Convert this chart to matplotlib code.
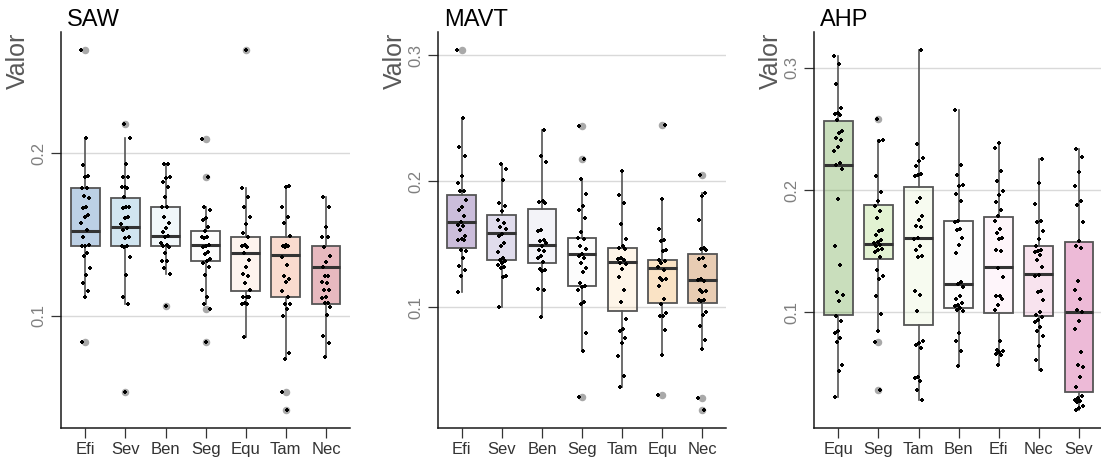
import matplotlib
matplotlib.use("Agg")
import matplotlib.pyplot as plt
from matplotlib.transforms import offset_copy
from matplotlib.colors import to_rgba
import numpy as np

plt.rcParams['font.family'] = ['Liberation Sans', 'DejaVu Sans']

# ---------------- SAW ----------------
saw_labels = ["Efi", "Sev", "Ben", "Seg", "Equ", "Tam", "Nec"]
saw_palette = ["#2166AC", "#67A9CF", "#D1E5F0", "#F7F7F7", "#FDDBC7", "#EF8A62", "#B2182B"]
saw_efi = [0.2634, 0.2091, 0.1928, 0.1862, 0.1856, 0.1788, 0.1788, 0.1739, 0.1722, 0.1671, 0.1665, 0.1619, 0.1605, 0.1568,
           0.1527, 0.1481, 0.1434, 0.1428, 0.1428, 0.1387, 0.1366, 0.1296, 0.1249, 0.1198, 0.1152, 0.1115, 0.0837]
saw_sev = [0.2181, 0.2091, 0.1932, 0.1856, 0.1856, 0.1794, 0.1790, 0.1788, 0.1733, 0.1671, 0.1667, 0.1665, 0.1609, 0.1599,
           0.1564, 0.1537, 0.1527, 0.1481, 0.1479, 0.1428, 0.1428, 0.1424, 0.1362, 0.1249, 0.1115, 0.1074, 0.0529]
saw_ben = [0.1932, 0.1932, 0.1856, 0.1850, 0.1825, 0.1794, 0.1733, 0.1671, 0.1667, 0.1605, 0.1572, 0.1537, 0.1516, 0.1490,
           0.1486, 0.1444, 0.1434, 0.1428, 0.1424, 0.1383, 0.1337, 0.1337, 0.1290, 0.1255, 0.1058]
saw_seg = [0.2088, 0.1856, 0.1671, 0.1650, 0.1599, 0.1588, 0.1543, 0.1521, 0.1486, 0.1481, 0.1479, 0.1434, 0.1428, 0.1424,
           0.1393, 0.1379, 0.1346, 0.1335, 0.1321, 0.1300, 0.1249, 0.1156, 0.1115, 0.1074, 0.1039, 0.0837]
saw_equ = [0.2634, 0.1788, 0.1733, 0.1671, 0.1609, 0.1564, 0.1510, 0.1481, 0.1434, 0.1428, 0.1424, 0.1387, 0.1342, 0.1300,
           0.1255, 0.1243, 0.1198, 0.1156, 0.1115, 0.1115, 0.1115, 0.1078, 0.1074, 0.1074, 0.0868]
saw_tam = [0.1798, 0.1794, 0.1671, 0.1609, 0.1568, 0.1490, 0.1434, 0.1428, 0.1428, 0.1420, 0.1362, 0.1311, 0.1243, 0.1228,
           0.1208, 0.1152, 0.1115, 0.1070, 0.1070, 0.1039, 0.0996, 0.0770, 0.0735, 0.0529, 0.0420]
saw_nec = [0.1728, 0.1671, 0.1547, 0.1486, 0.1486, 0.1424, 0.1366, 0.1327, 0.1300, 0.1243, 0.1243, 0.1208, 0.1202, 0.1160,
           0.1156, 0.1115, 0.1111, 0.1078, 0.1078, 0.1053, 0.1002, 0.0872, 0.0831, 0.0745]
saw_q1 = [0.1428, 0.1428, 0.1428, 0.1335, 0.1152, 0.1115, 0.1074]
saw_med = [0.1523, 0.1547, 0.1490, 0.1434, 0.1387, 0.1372, 0.1298]
saw_q3 = [0.1788, 0.1726, 0.1671, 0.1521, 0.1481, 0.1481, 0.1428]
saw_lo = [0.1115, 0.1074, 0.1255, 0.1074, 0.0868, 0.0735, 0.0745]
saw_hi = [0.2091, 0.2091, 0.1932, 0.1671, 0.1788, 0.1798, 0.1728]

# ---------------- MAVT ----------------
mavt_labels = ["Efi", "Sev", "Ben", "Seg", "Tam", "Equ", "Nec"]
mavt_palette = ["#542788", "#998EC3", "#D8DAEB", "#F7F7F7", "#FEE0B6", "#F1A340", "#B35806"]
mavt_efi = [0.3040, 0.2503, 0.2272, 0.2198, 0.2040, 0.1987, 0.1926, 0.1921, 0.1854, 0.1794, 0.1775, 0.1722, 0.1675, 0.1656,
            0.1643, 0.1616, 0.1569, 0.1542, 0.1537, 0.1532, 0.1458, 0.1444, 0.1392, 0.1325, 0.1299, 0.1246, 0.1119]
mavt_sev = [0.2140, 0.2098, 0.2008, 0.1828, 0.1802, 0.1762, 0.1690, 0.1669, 0.1638, 0.1622, 0.1585, 0.1563, 0.1511, 0.1489,
            0.1437, 0.1392, 0.1378, 0.1365, 0.1352, 0.1339, 0.1320, 0.1312, 0.1246, 0.1241, 0.1003]
mavt_ben = [0.2410, 0.2198, 0.2151, 0.1847, 0.1833, 0.1828, 0.1616, 0.1603, 0.1537, 0.1524, 0.1511, 0.1489, 0.1458, 0.1444,
            0.1405, 0.1392, 0.1357, 0.1304, 0.1294, 0.1286, 0.1146, 0.1140, 0.0923]
mavt_seg = [0.2437, 0.2177, 0.2019, 0.1902, 0.1802, 0.1775, 0.1709, 0.1595, 0.1550, 0.1542, 0.1484, 0.1463, 0.1426, 0.1405,
            0.1392, 0.1352, 0.1312, 0.1278, 0.1193, 0.1172, 0.1161, 0.1140, 0.1040, 0.1029, 0.0796, 0.0651, 0.0288]
mavt_tam = [0.2079, 0.1889, 0.1828, 0.1664, 0.1542, 0.1484, 0.1471, 0.1463, 0.1392, 0.1384, 0.1373, 0.1352, 0.1344, 0.1304,
            0.1241, 0.1135, 0.1040, 0.0907, 0.0828, 0.0810, 0.0757, 0.0717, 0.0616, 0.0452, 0.0368]
mavt_equ = [0.2450, 0.1862, 0.1622, 0.1532, 0.1524, 0.1458, 0.1444, 0.1378, 0.1365, 0.1352, 0.1320, 0.1294, 0.1233, 0.1225,
            0.1214, 0.1167, 0.1066, 0.1029, 0.0955, 0.0934, 0.0929, 0.0817, 0.0624, 0.0307]
mavt_nec = [0.2053, 0.1907, 0.1881, 0.1690, 0.1471, 0.1463, 0.1458, 0.1392, 0.1384, 0.1325, 0.1225, 0.1214, 0.1206, 0.1140,
            0.1127, 0.1122, 0.1061, 0.1056, 0.1048, 0.0960, 0.0942, 0.0854, 0.0738, 0.0669, 0.0280, 0.0188]
mavt_q1 = [0.1471, 0.1376, 0.1352, 0.1172, 0.0968, 0.1032, 0.1032]
mavt_med = [0.1680, 0.1593, 0.1497, 0.1426, 0.1357, 0.1315, 0.1220]
mavt_q3 = [0.1889, 0.1733, 0.1783, 0.1550, 0.1471, 0.1378, 0.1423]
mavt_lo = [0.1119, 0.1003, 0.0923, 0.0651, 0.0368, 0.0624, 0.0669]
mavt_hi = [0.2503, 0.2140, 0.2410, 0.2019, 0.2079, 0.1862, 0.1907]

# ---------------- AHP ----------------
ahp_labels = ["Equ", "Seg", "Tam", "Ben", "Efi", "Nec", "Sev"]
ahp_palette = ["#4D9221", "#A1D76A", "#E6F5D0", "#F7F7F7", "#FDE0EF", "#E9A3C9", "#C51B7D"]
ahp_equ = [0.3093, 0.3030, 0.2869, 0.2670, 0.2629, 0.2624, 0.2616, 0.2575, 0.2480, 0.2466, 0.2425, 0.2411, 0.2351, 0.2316,
           0.2221, 0.2207, 0.2172, 0.1929, 0.1545, 0.1384, 0.1163, 0.1139, 0.1090, 0.0973, 0.0932, 0.0845, 0.0831, 0.0790,
           0.0755, 0.0567, 0.0523, 0.0308]
ahp_seg = [0.2580, 0.2411, 0.2398, 0.2117, 0.1981, 0.1907, 0.1872, 0.1826, 0.1771, 0.1676, 0.1662, 0.1635, 0.1594, 0.1572,
           0.1567, 0.1553, 0.1540, 0.1518, 0.1507, 0.1490, 0.1450, 0.1343, 0.1294, 0.1272, 0.1136, 0.0986, 0.0845, 0.0755,
           0.0368]
ahp_tam = [0.3142, 0.2376, 0.2262, 0.2240, 0.2193, 0.2134, 0.2125, 0.2117, 0.1935, 0.1899, 0.1785, 0.1757, 0.1703, 0.1698,
           0.1608, 0.1599, 0.1545, 0.1512, 0.1463, 0.1452, 0.1172, 0.1144, 0.1008, 0.0763, 0.0749, 0.0736, 0.0708, 0.0469,
           0.0463, 0.0441, 0.0362, 0.0281]
ahp_ben = [0.2657, 0.2202, 0.2120, 0.2044, 0.2035, 0.1967, 0.1907, 0.1744, 0.1736, 0.1681, 0.1676, 0.1608, 0.1553, 0.1485,
           0.1245, 0.1234, 0.1207, 0.1136, 0.1112, 0.1076, 0.1063, 0.1049, 0.1035, 0.1022, 0.1008, 0.0831, 0.0763, 0.0681,
           0.0564]
ahp_efi = [0.2384, 0.2343, 0.2153, 0.2071, 0.1989, 0.1962, 0.1902, 0.1839, 0.1790, 0.1744, 0.1681, 0.1649, 0.1608, 0.1599,
           0.1507, 0.1499, 0.1362, 0.1289, 0.1136, 0.1131, 0.1109, 0.1063, 0.1022, 0.0763, 0.0695, 0.0681, 0.0673, 0.0662,
           0.0654, 0.0572]
ahp_nec = [0.2253, 0.2057, 0.1888, 0.1744, 0.1736, 0.1662, 0.1599, 0.1545, 0.1512, 0.1499, 0.1490, 0.1471, 0.1425, 0.1371,
           0.1308, 0.1300, 0.1172, 0.1166, 0.1104, 0.1000, 0.0981, 0.0962, 0.0940, 0.0918, 0.0877, 0.0845, 0.0804, 0.0728,
           0.0613, 0.0531]
ahp_sev = [0.2335, 0.2270, 0.2144, 0.2030, 0.1913, 0.1880, 0.1736, 0.1580, 0.1545, 0.1526, 0.1253, 0.1185, 0.1109, 0.1022,
           0.1000, 0.0932, 0.0864, 0.0673, 0.0572, 0.0553, 0.0469, 0.0387, 0.0319, 0.0300, 0.0286, 0.0272, 0.0264, 0.0237,
           0.0218, 0.0204]
ahp_q1 = [0.0975, 0.1439, 0.0894, 0.1038, 0.0995, 0.0967, 0.0352]
ahp_med = [0.2202, 0.1559, 0.1605, 0.1232, 0.1371, 0.1313, 0.1000]
ahp_q3 = [0.2561, 0.1875, 0.2025, 0.1744, 0.1777, 0.1545, 0.1572]
ahp_lo = [0.0308, 0.0845, 0.0281, 0.0564, 0.0572, 0.0531, 0.0204]
ahp_hi = [0.3093, 0.2411, 0.3142, 0.2657, 0.2384, 0.2253, 0.2335]

W, H, DPI = 1101, 463, 100
fig = plt.figure(figsize=(W / DPI, H / DPI), dpi=DPI)

AX_BOTTOM = 35.3 / H
AX_HEIGHT = 395.4 / H
AX_WIDTH = 288.7 / W

EDGE = "#555555"


def draw_panel(left_px, title, labels, groups, q1, med, q3, lo, hi, palette, yticks):
    ax = fig.add_axes([left_px / W, AX_BOTTOM, AX_WIDTH, AX_HEIGHT])
    pos = np.arange(1, len(labels) + 1)

    stats = []
    for vals, a, m, b, l, h in zip(groups, q1, med, q3, lo, hi):
        fl = [v for v in vals if v < l or v > h]
        stats.append(dict(med=m, q1=a, q3=b, whislo=l, whishi=h, fliers=fl))

    res = ax.bxp(stats, positions=pos, widths=0.72, patch_artist=True, showcaps=False,
                 boxprops=dict(edgecolor=EDGE, linewidth=1.3),
                 medianprops=dict(color="#333333", linewidth=2.2, solid_capstyle="butt"),
                 whiskerprops=dict(color=EDGE, linewidth=1.2),
                 flierprops=dict(marker="o", markersize=4.4, markerfacecolor="#a9a9a9",
                                 markeredgecolor="#a9a9a9", linestyle="none"),
                 zorder=2)
    for box, c in zip(res["boxes"], palette):
        box.set_facecolor(to_rgba(c, 0.3))

    # jittered raw observations on top of the boxes
    for g, vals in enumerate(groups):
        idx = np.arange(len(vals))
        off = (((idx * 0.618034 + g * 0.37) % 1.0) - 0.5) * 0.22
        ax.scatter(pos[g] + off, vals, marker="P", s=9, color="black", linewidths=0, zorder=4)

    allv = np.concatenate([np.asarray(v) for v in groups])
    span = allv.max() - allv.min()
    ax.set_ylim(allv.min() - 0.05 * span, allv.max() + 0.05 * span)
    ax.set_xlim(0.4, len(labels) + 0.6)

    ax.set_xticks(pos)
    ax.set_xticklabels(labels, fontsize=12, color="#333333")
    ax.set_yticks(yticks)
    ax.set_yticklabels([f"{t:.1f}" for t in yticks], rotation=90, va="center",
                       fontsize=12, color="#7f7f7f")
    ax.tick_params(axis="both", length=7, width=0.9, color="#333333")
    ax.tick_params(axis="x", pad=3.5)
    ax.tick_params(axis="y", pad=3.5)

    ax.yaxis.grid(True, color="#d9d9d9", linewidth=1.0)
    ax.set_axisbelow(True)
    for s in ("top", "right"):
        ax.spines[s].set_visible(False)
    for s in ("left", "bottom"):
        ax.spines[s].set_color("#1a1a1a")
        ax.spines[s].set_linewidth(1.1)

    ax.text(0, 1, title, transform=offset_copy(ax.transAxes, fig=fig, x=6.0, y=6.3, units="dots"),
            ha="left", va="baseline", fontsize=17, color="black")
    ax.text(0, 1, "Valor", transform=offset_copy(ax.transAxes, fig=fig, x=-31, y=0, units="dots"),
            rotation=90, ha="right", va="top", fontsize=18, color="#595959")
    return ax


draw_panel(61.3, "SAW", saw_labels,
           [saw_efi, saw_sev, saw_ben, saw_seg, saw_equ, saw_tam, saw_nec],
           saw_q1, saw_med, saw_q3, saw_lo, saw_hi, saw_palette, [0.1, 0.2])
draw_panel(437.7, "MAVT", mavt_labels,
           [mavt_efi, mavt_sev, mavt_ben, mavt_seg, mavt_tam, mavt_equ, mavt_nec],
           mavt_q1, mavt_med, mavt_q3, mavt_lo, mavt_hi, mavt_palette, [0.1, 0.2, 0.3])
draw_panel(814.3, "AHP", ahp_labels,
           [ahp_equ, ahp_seg, ahp_tam, ahp_ben, ahp_efi, ahp_nec, ahp_sev],
           ahp_q1, ahp_med, ahp_q3, ahp_lo, ahp_hi, ahp_palette, [0.1, 0.2, 0.3])

fig.savefig("out.png", dpi=DPI)
